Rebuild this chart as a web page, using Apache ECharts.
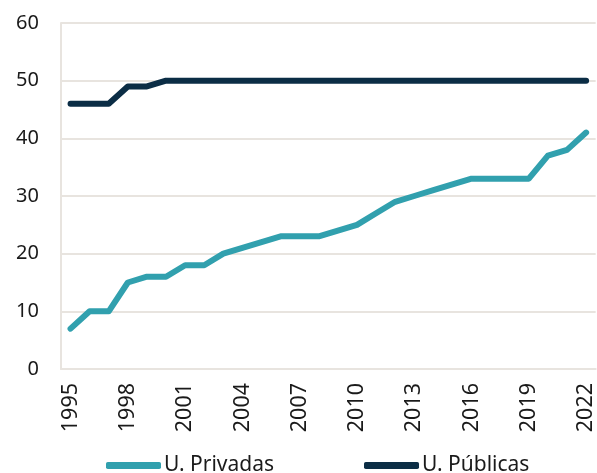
<!DOCTYPE html>
<html>
<head>
<meta charset="utf-8">
<script src="https://cdn.jsdelivr.net/npm/echarts@6/dist/echarts.min.js"></script>
<style>
  html, body { margin: 0; padding: 0; background: #fff; }
  #main { width: 597px; height: 473px; }
</style>
</head>
<body>
<div id="main"></div>
<script>
// years on the x axis
const years = [];
for (let y = 1995; y <= 2022; y++) years.push(String(y));

// values
const privadas = [7, 10, 10, 15, 16, 16, 18, 18, 20, 21, 22, 23, 23, 23, 24, 25, 27, 29, 30, 31, 32, 33, 33, 33, 33, 37, 38, 41];
const publicas = [46, 46, 46, 49, 49, 50, 50, 50, 50, 50, 50, 50, 50, 50, 50, 50, 50, 50, 50, 50, 50, 50, 50, 50, 50, 50, 50, 50];

const seriesNames = ["U. Privadas", "U. Públicas"];
const yTicks = [0, 10, 20, 30, 40, 50, 60];

const gridColor = "#e8e4df";
const textColor = "#1a1a1a";
const font = "Noto Sans";

let myChart = echarts.init(document.getElementById("main"));
let option = {
  animation: false,
  grid: {
    left: 61,
    top: 23,
    right: -5,
    bottom: 104,
    containLabel: false
  },
  legend: {
    bottom: -3,
    left: 106,
    padding: 0,
    data: seriesNames,
    icon: "roundRect",
    itemWidth: 55,
    itemHeight: 7,
    itemGap: 90,
    textStyle: { fontFamily: font, fontSize: 21, color: textColor, padding: [0, 0, 0, -2] }
  },
  xAxis: {
    type: "category",
    data: years,
    boundaryGap: true,
    axisLine: { lineStyle: { color: gridColor, width: 2 } },
    axisTick: { show: false },
    axisLabel: {
      interval: 2,
      rotate: 90,
      margin: 14,
      fontFamily: font,
      fontSize: 21.5,
      color: textColor
    }
  },
  yAxis: {
    type: "value",
    min: yTicks[0],
    max: yTicks[yTicks.length - 1],
    interval: 10,
    axisLine: { show: true, lineStyle: { color: gridColor, width: 2 } },
    axisTick: { show: false },
    splitLine: { lineStyle: { color: gridColor, width: 2 } },
    axisLabel: {
      margin: 22,
      fontFamily: font,
      fontSize: 20,
      color: textColor
    }
  },
  series: [
    {
      name: seriesNames[0],
      type: "line",
      data: privadas,
      symbol: "none",
      color: "#31a0ae",
      lineStyle: { width: 6, cap: "round", join: "round" }
    },
    {
      name: seriesNames[1],
      type: "line",
      data: publicas,
      symbol: "none",
      color: "#0b2d45",
      lineStyle: { width: 6, cap: "round", join: "round" }
    }
  ]
};
myChart.setOption(option);
</script>
</body>
</html>
